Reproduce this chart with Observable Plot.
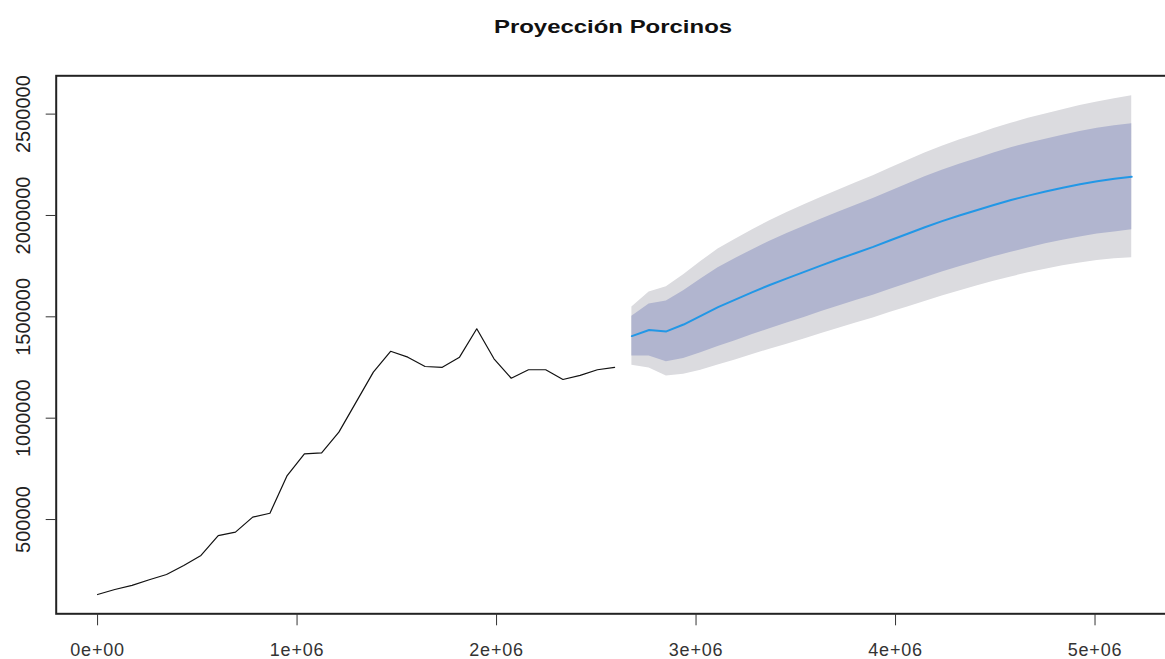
<!DOCTYPE html>
<html><head><meta charset="utf-8">
<script src="https://cdn.jsdelivr.net/npm/d3@7"></script>
<script src="https://cdn.jsdelivr.net/npm/@observablehq/plot@0.6"></script>
<style>
html,body{margin:0;padding:0;background:#fff;overflow:hidden;}
#title{position:relative;height:50px;width:1165px;font-family:"Liberation Sans",Arial,sans-serif;}
#title span{position:absolute;left:613px;top:27px;transform:translate(-50%,-50%) scaleX(1.33);font-weight:bold;font-size:18px;color:#111;white-space:nowrap;}
g[aria-label="x-axis tick label"] text{letter-spacing:0.8px;}
</style></head><body>
<div id="title"><span id="t"></span></div>
<div id="chart"></div>
<script>
const chartTitle = "Proyección Porcinos";
const secondsPerDay = 86400;

// observed series (day index 0..30)
const historyDays = d3.range(0, 31);
const historyValues = [130000,155000,175000,203000,229000,273000,323000,421000,438000,512000,531000,717000,824000,829000,931000,1079000,1227000,1330000,1301000,1255000,1251000,1301000,1441000,1293000,1197000,1239000,1239000,1191000,1211000,1239000,1251000];

// forecast (day index 31..60)
const forecastDays = d3.range(31, 61);
const forecastMean = [1405000,1435000,1428000,1462000,1505000,1548000,1585000,1622000,1657000,1690000,1722000,1754000,1785000,1815000,1845000,1878000,1910000,1942000,1972000,2000000,2026000,2052000,2076000,2098000,2118000,2137000,2154000,2169000,2181000,2191000];
const hi95 = [1549000,1623000,1648000,1707000,1773000,1834000,1883000,1930000,1974000,2015000,2053000,2090000,2126000,2161000,2196000,2234000,2271000,2308000,2341000,2372000,2400000,2429000,2455000,2479000,2501000,2522000,2542000,2560000,2576000,2590000];
const lo95 = [1261000,1247000,1208000,1217000,1237000,1262000,1287000,1314000,1340000,1365000,1391000,1418000,1444000,1469000,1494000,1522000,1549000,1576000,1603000,1628000,1652000,1675000,1697000,1717000,1735000,1752000,1766000,1778000,1786000,1792000];
const hi80 = [1503000,1563000,1578000,1629000,1687000,1742000,1788000,1831000,1873000,1911000,1947000,1982000,2017000,2050000,2084000,2120000,2155000,2191000,2223000,2253000,2280000,2308000,2334000,2356000,2376000,2396000,2414000,2430000,2443000,2453000];
const lo80 = [1307000,1307000,1278000,1295000,1323000,1354000,1382000,1413000,1441000,1469000,1497000,1526000,1553000,1580000,1606000,1636000,1665000,1693000,1721000,1747000,1772000,1796000,1818000,1840000,1860000,1878000,1894000,1908000,1919000,1929000];

const xTicks = [0, 1000000, 2000000, 3000000, 4000000, 5000000];
const xTickLabels = ["0e+00","1e+06","2e+06","3e+06","4e+06","5e+06"];
const yTicks = [500000, 1000000, 1500000, 2000000, 2500000];
const yTickLabels = ["500000","1000000","1500000","2000000","2500000"];

document.getElementById("t").textContent = chartTitle;

const hist = historyDays.map((d, i) => ({t: d * secondsPerDay, v: historyValues[i]}));
const fc = forecastDays.map((d, i) => ({t: d * secondsPerDay, mean: forecastMean[i], lo80: lo80[i], hi80: hi80[i], lo95: lo95[i], hi95: hi95[i]}));

const chart = Plot.plot({
  width: 1165,
  height: 609,
  marginLeft: 55.7,
  marginRight: -7.6,
  marginTop: 25.3,
  marginBottom: 45.7,
  style: {fontFamily: "'Liberation Sans', Arial, sans-serif", background: "white", color: "#222"},
  x: {domain: [-207360, 5391360], label: null},
  y: {domain: [35000, 2689000], label: null},
  marks: [
    Plot.areaY(fc, {x: "t", y1: "lo95", y2: "hi95", fill: "#DBDBDF"}),
    Plot.areaY(fc, {x: "t", y1: "lo80", y2: "hi80", fill: "#B1B5CF"}),
    Plot.line(hist, {x: "t", y: "v", stroke: "#111", strokeWidth: 1.2}),
    Plot.line(fc, {x: "t", y: "mean", stroke: "#2297E6", strokeWidth: 2}),
    Plot.frame({stroke: "#222", strokeWidth: 2}),
    Plot.axisX({ticks: xTicks, tickSize: 12, tickPadding: 17, fontSize: 18, label: null,
      tickFormat: d => xTickLabels[xTicks.indexOf(d)], color: "#333"}),
    Plot.axisY({ticks: yTicks, tickSize: 10, label: null, tickFormat: () => "", color: "#333"}),
    Plot.text(yTicks, {y: d => d, text: d => yTickLabels[yTicks.indexOf(d)], frameAnchor: "left",
      rotate: -90, dx: -32.7, fontSize: 20, textAnchor: "middle", lineAnchor: "middle", fill: "#222"})
  ]
});
document.getElementById("chart").appendChild(chart);
</script></body></html>
